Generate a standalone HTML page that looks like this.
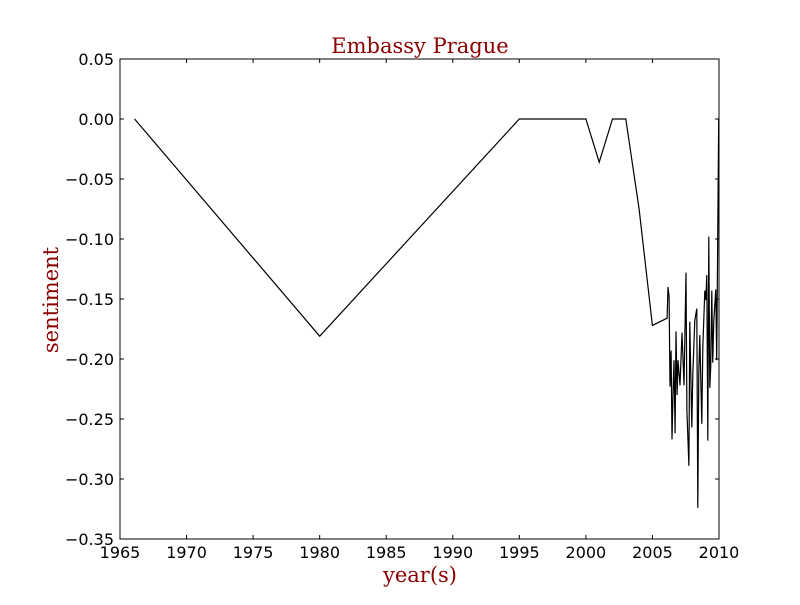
<!DOCTYPE html>
<html><head><meta charset="utf-8"><style>
body{margin:0;background:#fff}
svg text{font-family:"DejaVu Sans","Liberation Sans",sans-serif}
.serif{font-family:"DejaVu Serif","Liberation Serif",serif}
</style></head><body>
<svg id="c" width="800" height="600">
<rect width="800" height="600" fill="#fff"/>
<g id="g"></g>
</svg>
<script>
const years=[1966.1,1980,1995,2000,2001,2002,2003,2004,2005,2006.1,2006.17,2006.25,2006.32,2006.4,2006.47,2006.55,2006.62,2006.7,2006.77,2006.85,2006.92,2007.07,2007.22,2007.37,2007.52,2007.59,2007.74,2007.81,2007.96,2008.03,2008.18,2008.33,2008.41,2008.48,2008.56,2008.71,2008.78,2008.93,2009.01,2009.08,2009.16,2009.23,2009.31,2009.38,2009.46,2009.53,2009.61,2009.76,2009.83,2009.98];
const sentiment=[0,-0.181,0,0,-0.036,0,0,-0.075,-0.172,-0.166,-0.140,-0.148,-0.223,-0.193,-0.267,-0.226,-0.201,-0.262,-0.177,-0.230,-0.201,-0.222,-0.178,-0.222,-0.128,-0.243,-0.289,-0.169,-0.257,-0.213,-0.168,-0.158,-0.324,-0.211,-0.180,-0.254,-0.191,-0.143,-0.151,-0.130,-0.268,-0.098,-0.224,-0.207,-0.143,-0.203,-0.168,-0.142,-0.201,0];
const xTicks=[1965,1970,1975,1980,1985,1990,1995,2000,2005,2010];
const yTicks=[0.05,0,-0.05,-0.10,-0.15,-0.20,-0.25,-0.30,-0.35];
const L=120,R=719,T=59,B=539;
const sx=v=>L+(v-1965)/45*(R-L);
const sy=v=>T+(0.05-v)/0.4*(B-T);
const g=document.getElementById('g');
const NS='http://www.w3.org/2000/svg';
function mk(t,a,txt){const e=document.createElementNS(NS,t);for(const k in a)e.setAttribute(k,a[k]);if(txt!==undefined)e.textContent=txt;g.appendChild(e);return e;}
let d=years.map((y,i)=>(i?'L':'M')+sx(y).toFixed(1)+','+sy(sentiment[i]).toFixed(1)).join('');
const line=mk('path',{d:d,fill:'none',stroke:'#000','stroke-width':1.2});


const fr=mk('rect',{x:L,y:T,width:R-L,height:B-T,fill:'none',stroke:'#000','stroke-width':1});


xTicks.forEach(v=>{const x=sx(v);
mk('line',{x1:x,x2:x,y1:B,y2:B-4,stroke:'#000'});mk('line',{x1:x,x2:x,y1:T,y2:T+4,stroke:'#000'});
const t=mk('text',{x:x,y:B+19,'text-anchor':'middle','font-size':16},String(v));

});
yTicks.forEach(v=>{const y=sy(v);
mk('line',{x1:L,x2:L+4,y1:y,y2:y,stroke:'#000'});mk('line',{x1:R,x2:R-4,y1:y,y2:y,stroke:'#000'});
const s=(v<0?'\u2212':'')+Math.abs(v).toFixed(2);
const t=mk('text',{x:L-6,y:y+6,'text-anchor':'end','font-size':16},s);

});
const ti=mk('text',{x:420,y:53,'text-anchor':'middle','font-size':21,fill:'#8b0000',class:'serif'},'Embassy Prague');


const xl=mk('text',{x:420,y:582,'text-anchor':'middle','font-size':21,fill:'#8b0000',class:'serif'},'year(s)');


const yl=mk('text',{x:0,y:0,'text-anchor':'middle','font-size':21,fill:'#8b0000',class:'serif',transform:'translate(58,300) rotate(-90)'},'sentiment');


</script>
</body></html>
